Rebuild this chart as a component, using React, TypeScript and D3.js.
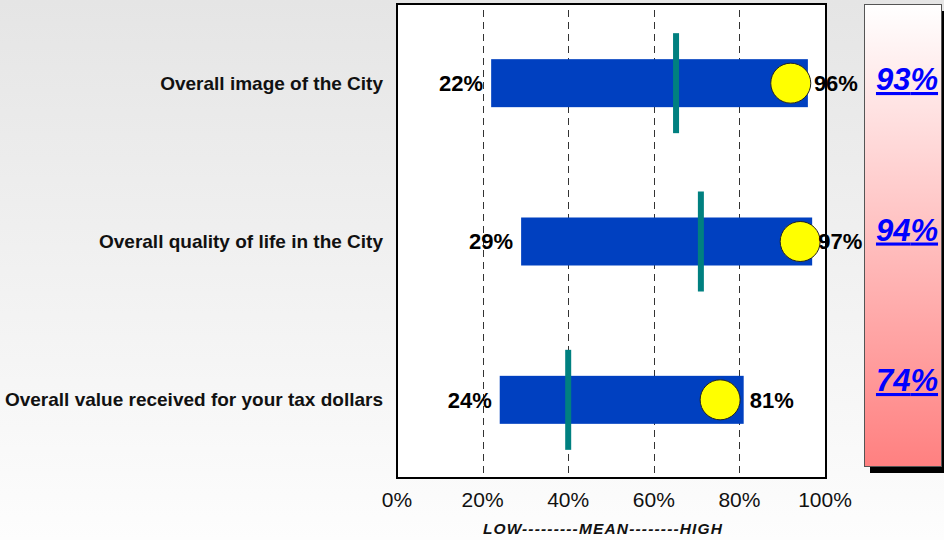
import React from "react";
import * as d3 from "d3";

const categories = [
  "Overall image of the City",
  "Overall quality of life in the City",
  "Overall value received for your tax dollars",
];
const lowValues = [22, 29, 24];
const highValues = [96, 97, 81];
const meanValues = [65.2, 71, 40];
const markerValues = [92, 94.2, 75.5];
const panelValues = [93, 94, 74];
const xTicks = [0, 20, 40, 60, 80, 100];
const axisTitle = "LOW---------MEAN--------HIGH";

const W = 944;
const H = 540;
const plot = { left: 397, right: 825, top: 4, bottom: 479 };

export default function App() {
  const x = d3.scaleLinear().domain([0, 100]).range([plot.left, plot.right]);
  const y = d3.scaleBand<string>().domain(categories).range([plot.top, plot.bottom]).padding(0);
  const yPanel = d3.scalePoint<string>().domain(categories).range([90, 391]);
  const bw = y.bandwidth();
  const barH = 48;
  const meanH = 100;
  const font = "Arial, 'Liberation Sans', sans-serif";

  return (
    <svg
      width={W}
      height={H}
      style={{ position: "absolute", left: 0, top: 0, display: "block" }}
      fontFamily={font}
    >
      <defs>
        <linearGradient id="bg" x1="0" y1="0" x2="0" y2="1">
          <stop offset="0" stopColor="#e5e5e5" />
          <stop offset="1" stopColor="#fdfdfd" />
        </linearGradient>
        <linearGradient id="panel" x1="0" y1="0" x2="0" y2="1">
          <stop offset="0" stopColor="#ffffff" />
          <stop offset="1" stopColor="#ff8080" />
        </linearGradient>
      </defs>
      <rect x={0} y={0} width={W} height={H} fill="url(#bg)" />

      {/* plot area */}
      <rect
        x={plot.left}
        y={plot.top}
        width={plot.right - plot.left + 1}
        height={plot.bottom - plot.top - 1}
        fill="#ffffff"
      />
      {xTicks
        .filter((t) => t > 0 && t < 100)
        .map((t) => (
          <line
            key={t}
            x1={Math.round(x(t)) + 0.5}
            x2={Math.round(x(t)) + 0.5}
            y1={plot.top + 6}
            y2={plot.bottom - 1}
            stroke="#333"
            strokeWidth={1}
            strokeDasharray="7,5"
          />
        ))}

      {categories.map((c, i) => {
        const cy = (y(c) as number) + bw / 2;
        return (
          <g key={c}>
            <text
              x={383}
              y={cy}
              dy="0.35em"
              textAnchor="end"
              fontWeight="bold"
              fontSize={19}
              fill="#111"
            >
              {c}
            </text>
            <rect
              x={x(lowValues[i])}
              y={cy - barH / 2}
              width={x(highValues[i]) - x(lowValues[i])}
              height={barH}
              fill="#0040c0"
            />
            <rect
              x={x(meanValues[i]) - 3}
              y={cy - meanH / 2}
              width={6}
              height={meanH}
              fill="#008080"
            />
            <circle
              cx={x(markerValues[i])}
              cy={cy}
              r={20}
              fill="#ffff00"
              stroke="#222"
              strokeWidth={1}
            />
            <text
              x={x(lowValues[i]) - 8}
              y={cy}
              dy="0.36em"
              textAnchor="end"
              fontWeight="bold"
              fontSize={22}
              fill="#000"
            >
              {lowValues[i]}%
            </text>
            <text
              x={x(highValues[i]) + 6}
              y={cy}
              dy="0.36em"
              textAnchor="start"
              fontWeight="bold"
              fontSize={22}
              fill="#000"
            >
              {highValues[i]}%
            </text>
          </g>
        );
      })}

      <rect
        x={plot.left}
        y={plot.top}
        width={plot.right - plot.left + 1}
        height={plot.bottom - plot.top - 1}
        fill="none"
        stroke="#000"
        strokeWidth={2}
      />

      {xTicks.map((t) => (
        <text key={t} x={x(t)} y={507} textAnchor="middle" fontSize={21} fill="#111">
          {t}%
        </text>
      ))}
      <text
        x={602.5}
        y={534}
        textAnchor="middle"
        fontSize={15.5}
        fontWeight="bold"
        fontStyle="italic"
        fill="#111"
        textLength={239}
        lengthAdjust="spacing"
      >
        {axisTitle}
      </text>

      {/* right panel */}
      <rect x={870} y={11} width={77} height={462} fill="#000" />
      <rect x={864.5} y={4.5} width={77} height={462} fill="url(#panel)" stroke="#555" strokeWidth={1} />
      {categories.map((c, i) => (
        <text
          key={c}
          x={907}
          y={yPanel(c) as number}
          textAnchor="middle"
          fontSize={31}
          fontWeight="bold"
          fontStyle="italic"
          textDecoration="underline"
          fill="#0000ff"
        >
          {panelValues[i]}%
        </text>
      ))}
    </svg>
  );
}
